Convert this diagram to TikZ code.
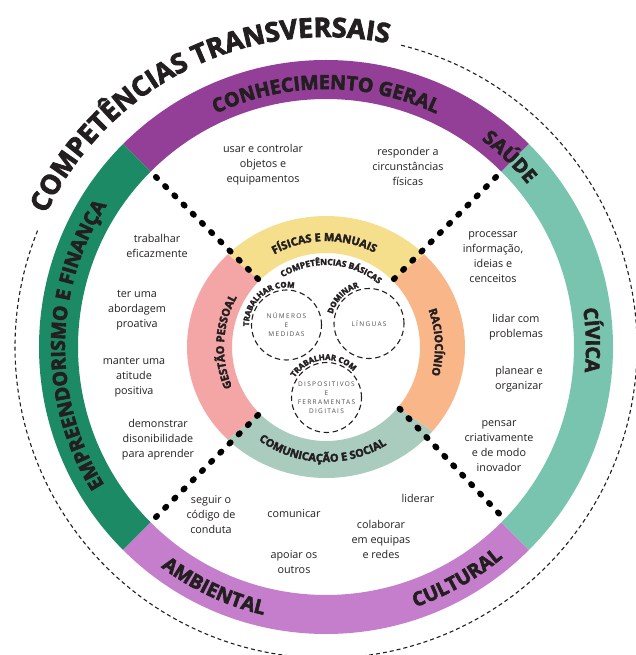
\documentclass[tikz,border=0pt]{standalone}
\usepackage{fontspec}
\setmainfont{Open Sans}
\newfontfamily\spacedfont{Open Sans}[LetterSpace=20]
\usetikzlibrary{decorations.text}

\definecolor{purpleA}{HTML}{933F98}
\definecolor{tealA}{HTML}{78C4AF}
\definecolor{lilacA}{HTML}{C57ECB}
\definecolor{greenA}{HTML}{1B8A65}
\definecolor{yellowA}{HTML}{F6DF8C}
\definecolor{orangeA}{HTML}{F9B688}
\definecolor{pinkA}{HTML}{F4A5A6}
\definecolor{mintA}{HTML}{A9CCBF}
\definecolor{inkA}{HTML}{231F20}

% heavier strokes for the ring labels
\newcommand{\heavy}[1]{\special{pdf:literal direct 2 Tr #1 w}}
\newcommand{\titlefont}{\fontsize{27}{27}\selectfont\bfseries\heavy{0.8}}
\newcommand{\bandfont}{\fontsize{19.5}{20}\selectfont\bfseries\heavy{0.6}}
\newcommand{\innerfont}{\fontsize{11}{12}\selectfont\bfseries\heavy{0.35}}
\newcommand{\basicfont}{\fontsize{8.5}{9}\selectfont\bfseries\heavy{0.25}}
\newcommand{\withfont}{\fontsize{7.9}{9}\selectfont\bfseries\heavy{0.25}}

% text on an arc: centre, radius, from, to, font, text
\newcommand{\arctext}[6]{%
  \path[decorate,decoration={text along path,text align=center,text color=inkA,text={|#5|#6}}]
    ([shift={(#3:#2)}]#1) arc[start angle=#3,end angle=#4,radius=#2];}

\begin{document}
\begin{tikzpicture}[x=1pt,y=1pt,
  body/.style={align=center,font=\fontsize{10.8}{15}\selectfont,text=inkA,inner sep=0},
  compcircle/.style={circle,draw=inkA,dash pattern=on 5.5pt off 3.5pt,line width=1.1pt,
    minimum size=70pt,inner sep=0,align=center,text=inkA!80,
    font=\spacedfont\fontsize{6.5}{9}\selectfont},
  dotline/.style={line width=6pt,line cap=round,dash pattern=on 1.5pt off 11.5pt,draw=black},
  ringdash/.style={line width=1.1pt,dash pattern=on 4pt off 3pt,draw=inkA}]
	\useasboundingbox (-326,-308) rectangle (310,347);

	% outer ring
	\foreach \a/\b/\c in {45/135/purpleA,135/225/greenA,225/315/lilacA,-45/45/tealA}
		\fill[\c] (\a:287) arc[start angle=\a,end angle=\b,radius=287] -- (\b:248)
			arc[start angle=\b,end angle=\a,radius=248] -- cycle;

	% inner ring
	\foreach \a/\b/\c in {45/135/yellowA,135/225/pinkA,225/320/mintA,-40/45/orangeA}
		\fill[\c] (\a:139 and 131) arc[start angle=\a,end angle=\b,x radius=139,y radius=131] -- (\b:94)
			arc[start angle=\b,end angle=\a,radius=94] -- cycle;

	\draw[ringdash] (76:311) arc[start angle=76,end angle=-202,radius=311];

	% dotted separators
	\coordinate (tlin) at (135:96);
	\coordinate (tlout) at (135:249);
	\coordinate (trin) at (45:96);
	\coordinate (trout) at (45:249);
	\coordinate (blin) at (225:96);
	\coordinate (blout) at (225:249);
	\coordinate (brin) at (-40:96);
	\coordinate (brout) at (-44:249);
	\draw[dotline] (tlin) -- (tlout);
	\draw[dotline] (trin) -- (trout);
	\draw[dotline] (blin) -- (blout);
	\draw[dotline] (brin) -- (brout);

	% basic competences
	\node[compcircle] (numeros) at (-39.5,22) {NÚMEROS\\E\\MEDIDAS};
	\node[compcircle] (linguas) at (43,23.5) {LÍNGUAS};
	\node[compcircle] (digitais) at (0.5,-50.5) {DISPOSITIVOS\\E\\FERRAMENTAS\\DIGITAIS};

	% skills
	\node[body] (usar) at (-63,182) {usar e controlar\\objetos e\\equipamentos};
	\node[body] (responder) at (82,181) {responder a\\circunstâncias\\físicas};
	\node[body] (trabalhar) at (-169,101) {trabalhar\\eficazmente};
	\node[body] (abordagem) at (-189,37) {ter uma\\abordagem\\proativa};
	\node[body] (atitude) at (-192,-30) {manter uma\\atitude\\positiva};
	\node[body] (aprender) at (-168,-93) {demonstrar\\disonibilidade\\para aprender};
	\node[body] (codigo) at (-115,-168) {seguir o\\código de\\conduta};
	\node[body] (comunicar) at (-32,-167) {comunicar};
	\node[body] (apoiar) at (-32,-215) {apoiar os\\outros};
	\node[body] (liderar) at (92,-151) {liderar};
	\node[body] (colaborar) at (55,-192) {colaborar\\em equipas\\e redes};
	\node[body] (processar) at (167,90) {processar\\informação,\\ideias e\\cenceitos};
	\node[body] (problemas) at (190,20) {lidar com\\problemas};
	\node[body] (planear) at (193,-32) {planear e\\organizar};
	\node[body] (pensar) at (173,-99) {pensar\\criativamente\\e de modo\\inovador};

	% labels on the rings
	\begin{scope}
	\arctext{0,0}{310}{165}{68}{\titlefont}{COMPETÊNCIAS TRANSVERSAIS}
	\arctext{0,0}{258}{130}{50}{\bandfont}{CONHECIMENTO GERAL}
	\arctext{0,0}{259}{60}{32}{\bandfont}{SAÚDE}
	\arctext{0,0}{260}{20}{-17}{\bandfont}{CÍVICA}
	\arctext{0,0}{261}{225}{134}{\bandfont}{EMPREENDORISMO E FINANÇA}
	\arctext{0,0}{275}{225}{265}{\bandfont}{AMBIENTAL}
	\arctext{0,0}{275}{-80}{-41}{\bandfont}{CULTURAL}

	\arctext{0,0}{106}{130}{52}{\innerfont}{FÍSICAS E MANUAIS}
	\arctext{0,0}{109}{40}{-35}{\innerfont}{RACIOCÍNIO}
	\arctext{0,0}{102}{220}{134}{\innerfont}{GESTÃO PESSOAL}
	\arctext{0,0}{115}{220}{316}{\innerfont}{COMUNICAÇÃO E SOCIAL}
	\arctext{0,0}{82}{135}{37}{\basicfont}{COMPETÊNCIAS BÁSICAS}

	\arctext{numeros.center}{37.5}{200}{60}{\withfont}{TRABALHAR COM}
	\arctext{linguas.center}{37.5}{175}{96}{\withfont}{DOMINAR}
	\arctext{digitais.center}{37.5}{166}{26}{\withfont}{TRABALHAR COM}
	\end{scope}

\end{tikzpicture}
\end{document}
